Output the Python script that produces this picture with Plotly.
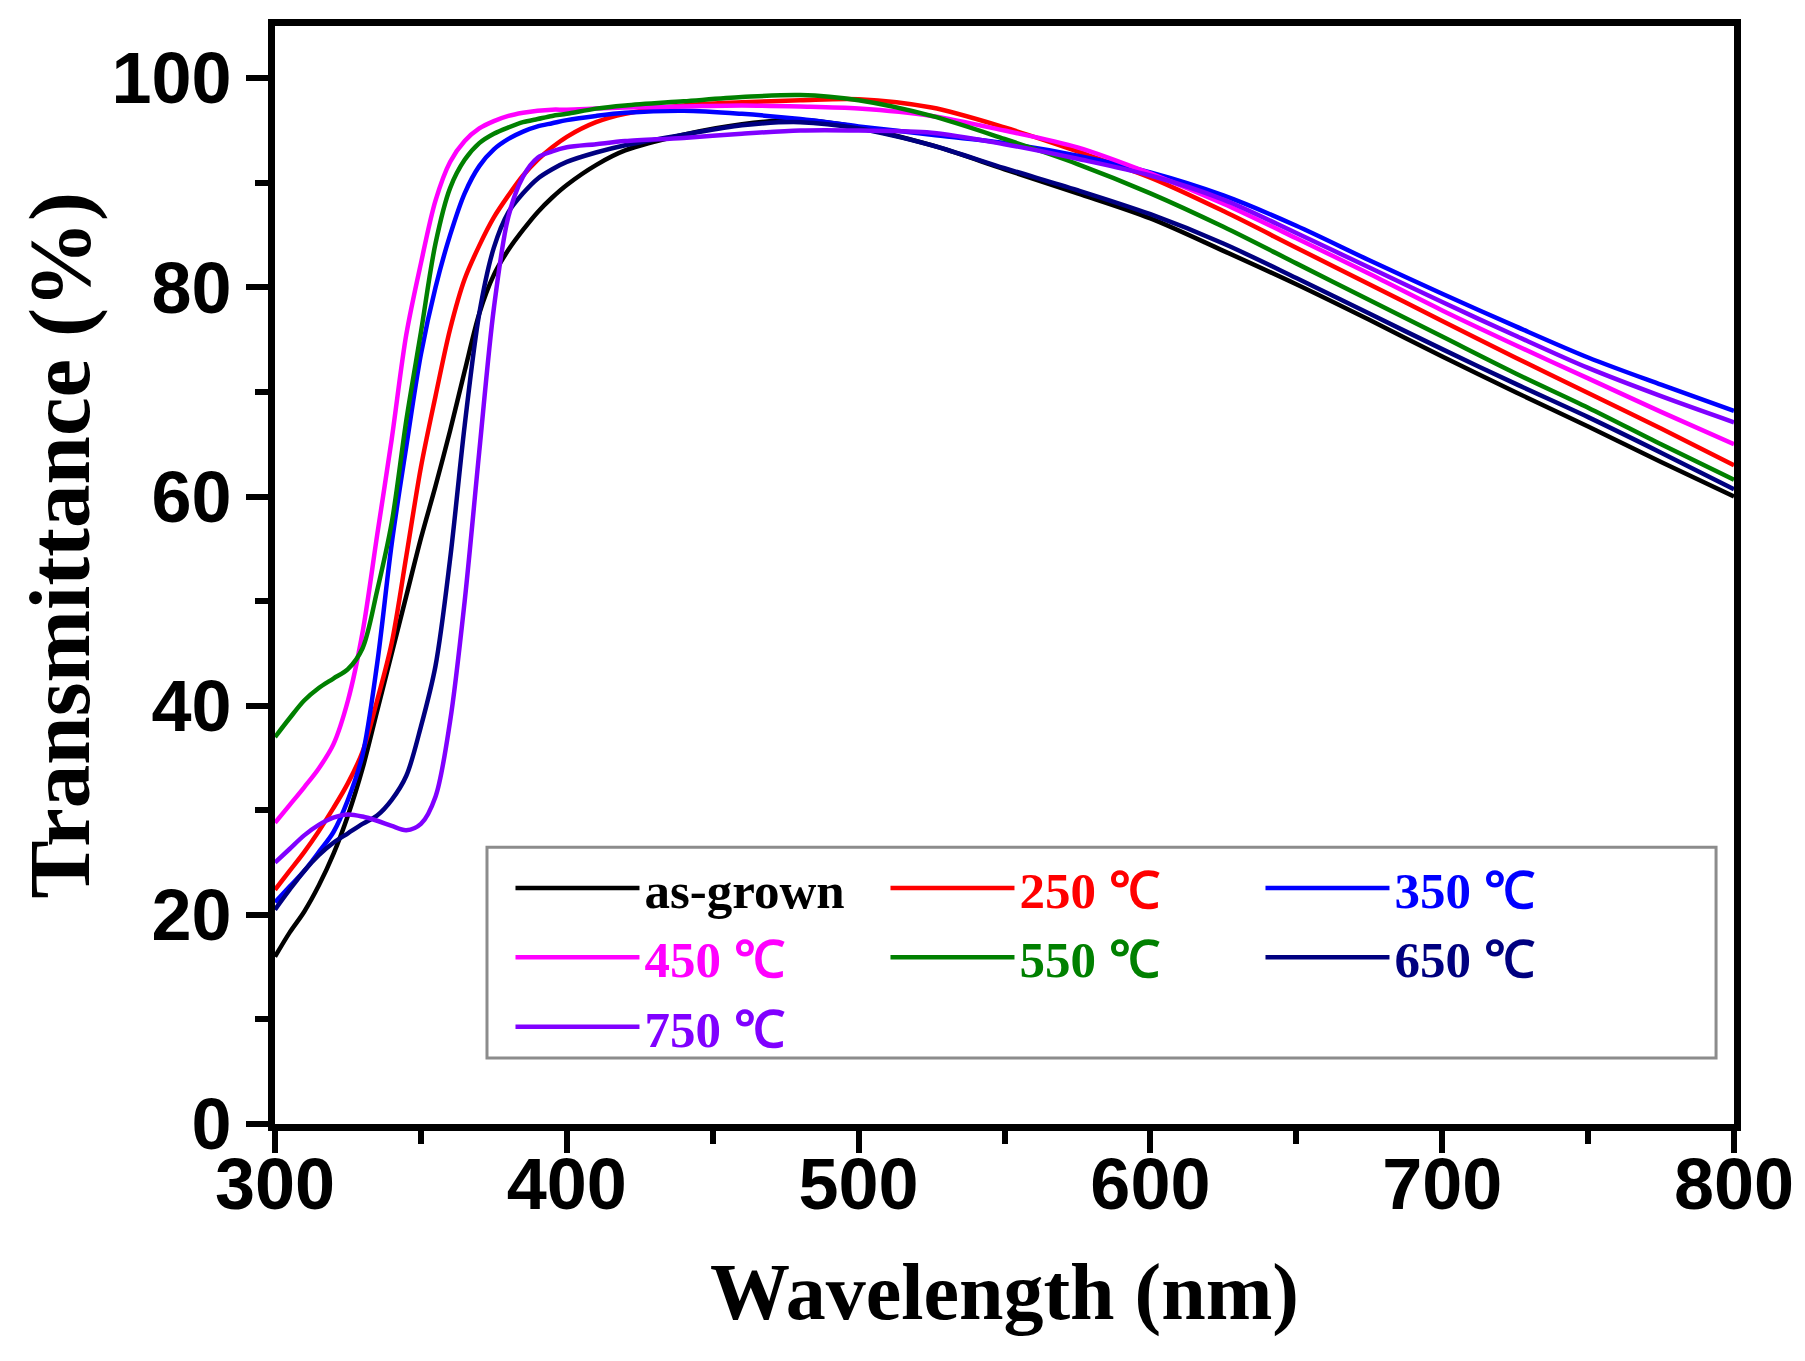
import plotly.graph_objects as go

# wavelength grid (nm) shared by every curve
wavelength = [300, 305, 310, 315, 320, 325, 330, 335, 340, 345, 350, 355, 360, 365, 370,
              375, 380, 385, 390, 395, 400, 410, 420, 440, 460, 480, 500, 525, 550, 575,
              600, 625, 650, 675, 700, 725, 750, 775, 800]

# transmittance (%)
as_grown = [16.0, 18.3, 20.3, 22.8, 25.8, 29.5, 34.0, 39.5, 45.0, 50.5, 56.0, 61.0, 66.3, 72.0, 77.5,
            81.2, 83.6, 85.5, 87.2, 88.6, 89.8, 91.7, 93.1, 94.6, 95.6, 96.0, 95.3, 93.6, 91.3, 89.0,
            86.6, 83.5, 80.3, 76.9, 73.4, 70.0, 66.7, 63.3, 60.0]
t250 = [22.4, 24.2, 26.0, 28.0, 30.2, 32.6, 35.6, 40.5, 46.0, 54.3, 62.8, 69.6, 76.0, 80.8, 84.0,
        86.7, 88.8, 90.7, 92.2, 93.4, 94.4, 95.8, 96.6, 97.4, 97.7, 97.9, 98.0, 97.2, 95.3, 93.0,
        90.5, 87.3, 83.8, 80.3, 76.8, 73.3, 69.9, 66.5, 63.0]
t350 = [21.2, 22.7, 24.2, 26.0, 27.9, 31.0, 35.3, 44.0, 55.5, 64.8, 73.6, 80.0, 85.0, 89.0, 91.6,
        93.2, 94.2, 94.9, 95.4, 95.7, 96.0, 96.4, 96.7, 96.9, 96.6, 96.1, 95.4, 94.6, 93.8, 92.6,
        91.0, 88.8, 85.9, 82.6, 79.4, 76.3, 73.3, 70.7, 68.2]
t450 = [28.8, 30.5, 32.2, 34.0, 36.3, 40.5, 47.0, 56.3, 65.5, 75.5, 82.3, 88.3, 92.0, 94.0, 95.2,
        95.9, 96.4, 96.7, 96.9, 97.0, 97.0, 97.1, 97.2, 97.3, 97.4, 97.3, 97.1, 96.4, 95.0, 93.4,
        90.9, 88.0, 84.7, 81.3, 77.8, 74.5, 71.3, 68.1, 65.0]
t550 = [37.0, 38.8, 40.5, 41.7, 42.6, 43.5, 45.5, 51.0, 57.5, 67.3, 75.7, 84.2, 89.5, 92.2, 93.8,
        94.7, 95.3, 95.8, 96.1, 96.4, 96.6, 97.1, 97.4, 97.8, 98.2, 98.4, 97.9, 96.4, 94.2, 91.8,
        89.0, 85.8, 82.3, 78.8, 75.3, 71.8, 68.5, 65.0, 61.6]
t650 = [20.5, 22.4, 24.2, 25.7, 26.9, 27.8, 28.7, 29.5, 31.0, 33.3, 38.0, 43.8, 54.0, 66.8, 77.5,
        83.8, 87.2, 89.0, 90.4, 91.3, 92.0, 92.9, 93.6, 94.6, 95.5, 95.8, 95.2, 93.6, 91.4, 89.3,
        87.0, 84.2, 80.9, 77.5, 74.1, 70.8, 67.6, 64.2, 60.7]
t750 = [25.0, 26.3, 27.6, 28.6, 29.3, 29.6, 29.4, 29.0, 28.5, 28.1, 28.7, 31.3, 38.5, 50.0, 64.3,
        78.0, 86.8, 90.6, 92.4, 93.0, 93.4, 93.7, 94.0, 94.3, 94.7, 95.0, 95.0, 94.8, 93.7, 92.3,
        90.7, 88.4, 85.2, 81.9, 78.6, 75.4, 72.3, 69.6, 67.1]

names = ["as-grown", "250 ℃", "350 ℃", "450 ℃", "550 ℃", "650 ℃", "750 ℃"]
colors = ["#000000", "#ff0000", "#0000ff", "#ff00ff", "#008000", "#000080", "#8000ff"]
series = [as_grown, t250, t350, t450, t550, t650, t750]

serif = "Liberation Serif, Times New Roman"

fig = go.Figure()
for name, color, ys in zip(names, colors, series):
    fig.add_trace(go.Scatter(
        x=wavelength, y=ys, mode="lines",
        name=f'<span style="color:{color}">{name}</span>',
        line=dict(color=color, width=4.5, shape="spline", smoothing=0.9),
    ))

axis_common = dict(
    showline=True, linecolor="black", linewidth=7, mirror=True,
    ticks="outside", ticklen=22, tickwidth=6, tickcolor="black",
    showgrid=False, zeroline=False,
    tickfont=dict(family="Liberation Sans, Arial", size=72, color="black", weight="bold"),
)

fig.update_xaxes(
    range=[300, 800], dtick=100, tick0=300, ticklabelstandoff=-30,
    minor=dict(dtick=50, ticks="outside", ticklen=13, tickwidth=6, tickcolor="black"),
    title=dict(text="Wavelength (nm)", standoff=42,
               font=dict(family=serif, size=80, color="black", weight="bold")),
    **axis_common,
)
fig.update_yaxes(
    range=[0, 105], dtick=20, tick0=0,
    minor=dict(dtick=10, ticks="outside", ticklen=13, tickwidth=6, tickcolor="black"),
    **axis_common,
)

# y axis title, sitting a little above the axis centre as in the original
fig.add_annotation(
    text="Transmittance (%)", textangle=-90, showarrow=False,
    xref="paper", yref="paper", x=-0.148, y=0.527, xanchor="center", yanchor="middle",
    font=dict(family=serif, size=87, color="black", weight="bold"),
)

# legend frame
fig.add_shape(type="rect", xref="paper", yref="paper",
              x0=0.1453, x1=0.9877, y0=0.0601, y1=0.252,
              line=dict(color="#8c8c8c", width=3), fillcolor="white", layer="below")

fig.update_layout(
    width=1805, height=1361,
    margin=dict(l=267, r=79, t=18, b=245),
    paper_bgcolor="white", plot_bgcolor="white",
    showlegend=True,
    legend=dict(
        orientation="h", x=0.1614, y=0.251, xanchor="left", yanchor="top",
        bgcolor="rgba(0,0,0,0)", borderwidth=0,
        itemwidth=124, entrywidth=236, tracegroupgap=0,
        font=dict(family=serif, size=51, color="black", weight="bold"),
    ),
)

fig.write_html("out.html")
